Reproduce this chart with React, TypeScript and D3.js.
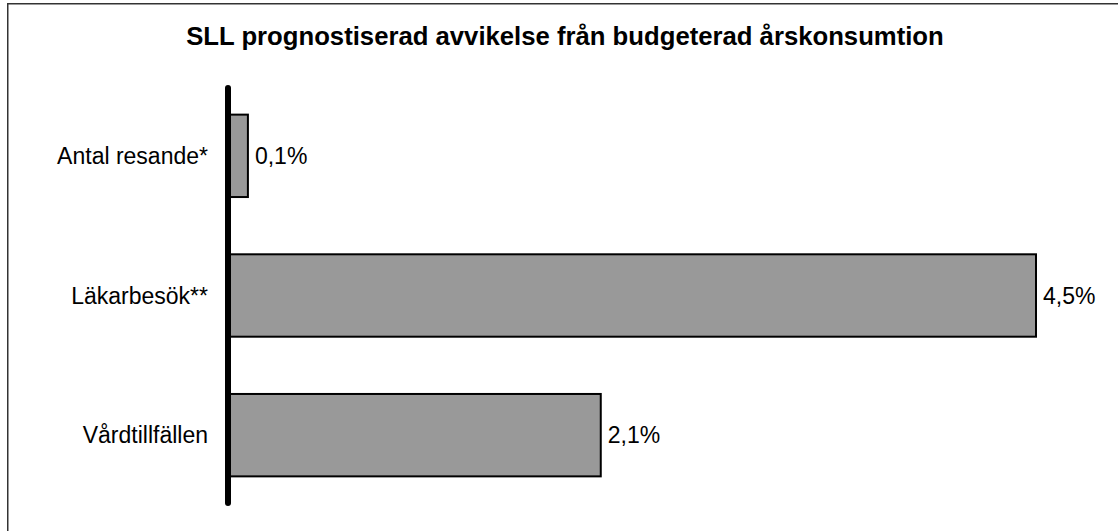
import React from "react";
import * as d3 from "d3";

const categories = ["Antal resande*", "Läkarbesök**", "Vårdtillfällen"];
const values = [0.1, 4.5, 2.07];
const title = "SLL prognostiserad avvikelse från budgeterad årskonsumtion";

const W = 1118;
const H = 531;

export default function App() {
  const x = d3.scaleLinear().domain([0, 4.5]).range([230, 1036]);
  const y = d3.scaleBand<string>().domain(categories).range([86, 505]).paddingInner(0.41).paddingOuter(0.205);
  const fmt = (v: number) => d3.format(".1f")(v).replace(".", ",") + "%";
  const font = "'Liberation Sans', Arial, sans-serif";
  return (
    <svg width={W} height={H} style={{ position: "absolute", left: 0, top: 0, display: "block" }}>
      <rect x={0} y={0} width={W} height={H} fill="#fff" />
      <path d={`M7.75,${H + 2}V3.75H${W + 2}`} fill="none" stroke="#333" strokeWidth={1.5} />
      <text x={565} y={45} textAnchor="middle" fontFamily={font} fontWeight="bold" fontSize={25.7} fill="#000">
        {title}
      </text>
      {categories.map((c, i) => {
        const yy = y(c)!;
        const bh = y.bandwidth();
        return (
          <g key={c}>
            <rect x={x(0)} y={yy} width={x(values[i]) - x(0)} height={bh} fill="#999999" stroke="#000" strokeWidth={2} />
            <text x={208} y={yy + bh / 2 + 8} textAnchor="end" fontFamily={font} fontSize={23} fill="#000">
              {c}
            </text>
            <text x={x(values[i]) + 7} y={yy + bh / 2 + 8} textAnchor="start" fontFamily={font} fontSize={23} fill="#000">
              {fmt(values[i])}
            </text>
          </g>
        );
      })}
      <line x1={228} x2={228} y1={88} y2={503} stroke="#000" strokeWidth={6} strokeLinecap="round" />
    </svg>
  );
}
